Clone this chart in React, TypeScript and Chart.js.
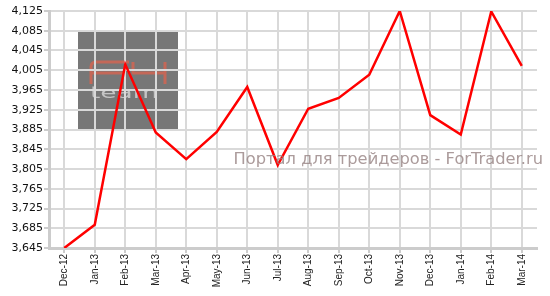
import React, { useEffect, useRef } from "react";
import { Chart, registerables } from "chart.js";

Chart.register(...registerables);

const categories = [
  "Dec-12", "Jan-13", "Feb-13", "Mar-13", "Apr-13", "May-13", "Jun-13", "Jul-13",
  "Aug-13", "Sep-13", "Oct-13", "Nov-13", "Dec-13", "Jan-14", "Feb-14", "Mar-14",
];
const values = [
  3645, 3692, 4017, 3879, 3825, 3880, 3971, 3813,
  3927, 3949, 3996, 4125, 3914, 3875, 4124, 4014,
];
const yMin = 3645;
const yMax = 4125;
const yStep = 40;
const watermark = "Портал для трейдеров - ForTrader.ru";

const logoPlugin = {
  id: "logo",
  beforeDraw(chart: any) {
    const { ctx, chartArea } = chart;
    if (!chartArea) return;
    ctx.save();
    const bx = chartArea.left + 29;
    const by = chartArea.top + 20;
    ctx.fillStyle = "#777777";
    ctx.fillRect(bx, by, 100, 98);
    // stylised "FX"
    ctx.strokeStyle = "rgba(215,100,80,0.8)";
    ctx.lineWidth = 3;
    ctx.lineJoin = "round";
    ctx.lineCap = "butt";
    const ox = bx + 13;
    const oy = by + 31;
    ctx.beginPath();
    ctx.moveTo(ox, oy + 22);
    ctx.lineTo(ox, oy + 5);
    ctx.quadraticCurveTo(ox, oy, ox + 5, oy);
    ctx.lineTo(ox + 38, oy);
    ctx.moveTo(ox, oy + 11);
    ctx.lineTo(ox + 34, oy + 11);
    ctx.moveTo(ox + 42, oy);
    ctx.lineTo(ox + 42, oy + 11);
    ctx.lineTo(ox + 74, oy + 11);
    ctx.moveTo(ox + 74, oy);
    ctx.lineTo(ox + 74, oy + 22);
    ctx.stroke();
    // "team"
    ctx.fillStyle = "#c4c4c4";
    ctx.font = "16px 'DejaVu Sans'";
    ctx.textBaseline = "alphabetic";
    ctx.textAlign = "left";
    ctx.save();
    ctx.translate(bx + 12, by + 67);
    ctx.scale(1.65, 1);
    ctx.fillText("team", 0, 0);
    ctx.restore();
    ctx.restore();
  },
  afterDatasetsDraw(chart: any) {
    const { ctx, chartArea } = chart;
    ctx.save();
    ctx.fillStyle = "rgba(150,130,130,0.8)";
    ctx.font = "16.3px 'DejaVu Sans'";
    ctx.textAlign = "right";
    ctx.textBaseline = "alphabetic";
    ctx.fillText(watermark, chartArea.right + 6, chartArea.top + 153);
    ctx.restore();
  },
};

export default function App() {
  const ref = useRef<HTMLCanvasElement>(null);
  useEffect(() => {
    document.body.style.margin = "0";
    const chart = new Chart(ref.current!, {
      type: "line",
      data: {
        labels: categories,
        datasets: [
          {
            data: values,
            borderColor: "#ff0000",
            borderWidth: 2.5,
            pointRadius: 0,
            tension: 0,
            fill: false,
          },
        ],
      },
      options: {
        animation: false,
        responsive: false,
        maintainAspectRatio: false,
        layout: { padding: { top: 11, right: 13, left: 0, bottom: 0 } },
        plugins: { legend: { display: false }, tooltip: { enabled: false } },
        scales: {
          x: {
            offset: true,
            grid: { offset: false, color: "#d9d9d9", lineWidth: 2, tickLength: 5, tickColor: "#cccccc" },
            border: { color: "#cccccc", width: 3 },
            ticks: {
              autoSkip: false,
              maxRotation: 90,
              minRotation: 90,
              padding: 1,
              color: "#222222",
              font: { family: "'Liberation Sans', Arial", size: 10 },
            },
            afterFit: (s: any) => { s.height = 48; },
          },
          y: {
            min: yMin,
            max: yMax,
            grid: { color: "#d9d9d9", lineWidth: 2, tickLength: 5, tickColor: "#cccccc" },
            border: { color: "#cccccc", width: 3 },
            ticks: {
              stepSize: yStep,
              padding: 1,
              color: "#111111",
              font: { family: "'DejaVu Sans'", size: 11 },
            },
            afterFit: (s: any) => { s.width = 49; },
          },
        },
      },
      plugins: [logoPlugin],
    });
    return () => chart.destroy();
  }, []);
  return <canvas ref={ref} width={550} height={296} />;
}
